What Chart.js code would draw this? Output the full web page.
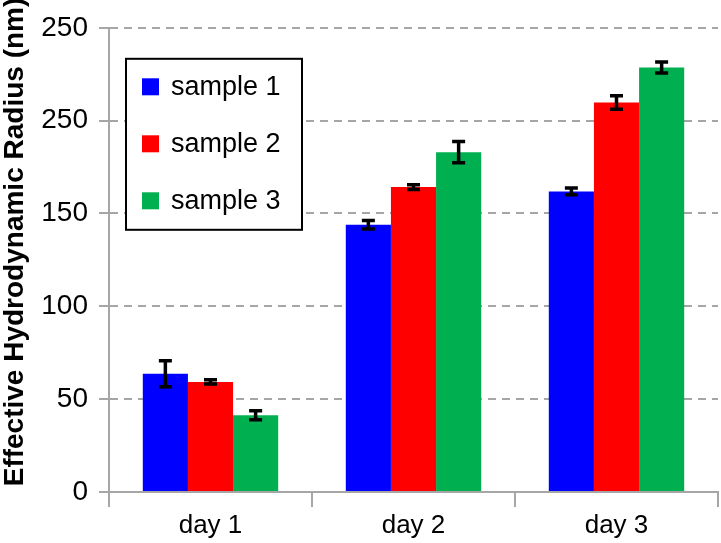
<!DOCTYPE html>
<html>
<head>
<meta charset="utf-8">
<script src="https://cdn.jsdelivr.net/npm/chart.js@4/dist/chart.umd.min.js"></script>
<style>
  html, body { margin: 0; padding: 0; background: #fff; }
  #wrap { width: 721px; height: 543px; position: relative; }
</style>
</head>
<body>
<div id="wrap"><canvas id="c" width="721" height="543"></canvas></div>
<script>
const categories = ['day 1', 'day 2', 'day 3'];
const seriesNames = ['sample 1', 'sample 2', 'sample 3'];
const sample1 = [63.7, 143.9, 161.9];
const sample2 = [59.3, 164.2, 209.8];
const sample3 = [41.3, 183.0, 228.6];
const err1 = [7.0, 2.3, 1.8];
const err2 = [1.2, 1.3, 3.6];
const err3 = [2.4, 5.7, 3.0];
const yTickLabels = ['0', '50', '100', '150', '250', '250'];
const yTitle = 'Effective Hydrodynamic Radius (nm)';
const colors = ['#0000FF', '#FF0000', '#00B050'];

const FONT = "'Liberation Sans', Arial, sans-serif";
const GRAY = '#A6A6A6';

const errorBars = {
  id: 'errorBars',
  afterDatasetsDraw(chart) {
    const ctx = chart.ctx;
    const y = chart.scales.y;
    ctx.save();
    ctx.strokeStyle = '#000';
    ctx.lineWidth = 3.5;
    chart.data.datasets.forEach((ds, di) => {
      const meta = chart.getDatasetMeta(di);
      meta.data.forEach((bar, i) => {
        const v = ds.data[i], e = ds.errors[i];
        const x = bar.x;
        const yt = y.getPixelForValue(v + e);
        const yb = y.getPixelForValue(v - e);
        ctx.beginPath();
        ctx.moveTo(x, yt); ctx.lineTo(x, yb);
        ctx.moveTo(x - 6.5, yt); ctx.lineTo(x + 6.5, yt);
        ctx.moveTo(x - 6.5, yb); ctx.lineTo(x + 6.5, yb);
        ctx.stroke();
      });
    });
    ctx.restore();
  }
};

const boxLegend = {
  id: 'boxLegend',
  afterDraw(chart, args, opts) {
    const ctx = chart.ctx;
    const a = chart.chartArea;
    const x0 = a.left + opts.dx, y0 = a.top + opts.dy;
    ctx.save();
    ctx.fillStyle = '#fff';
    ctx.fillRect(x0, y0, opts.w, opts.h);
    ctx.strokeStyle = '#000';
    ctx.lineWidth = 2;
    ctx.strokeRect(x0, y0, opts.w, opts.h);
    ctx.font = opts.fontSize + 'px ' + FONT;
    ctx.textBaseline = 'middle';
    ctx.textAlign = 'left';
    chart.data.datasets.forEach((ds, i) => {
      const cy = y0 + opts.firstRow + i * opts.rowGap;
      ctx.fillStyle = ds.backgroundColor;
      ctx.fillRect(x0 + 16, cy - 8.5, 17, 17);
      ctx.fillStyle = '#000';
      ctx.fillText(ds.label, x0 + 45, cy + 1);
    });
    ctx.restore();
  }
};

const yTitlePlugin = {
  id: 'yTitlePlugin',
  afterDraw(chart, args, opts) {
    const ctx = chart.ctx;
    ctx.save();
    ctx.translate(opts.x, opts.y);
    ctx.rotate(-Math.PI / 2);
    ctx.font = 'bold ' + opts.fontSize + 'px ' + FONT;
    ctx.fillStyle = '#000';
    ctx.textAlign = 'center';
    ctx.textBaseline = 'alphabetic';
    ctx.fillText(opts.text, 0, 0);
    ctx.restore();
  }
};

new Chart(document.getElementById('c'), {
  type: 'bar',
  data: {
    labels: categories,
    datasets: [
      { label: seriesNames[0], data: sample1, errors: err1, backgroundColor: colors[0] },
      { label: seriesNames[1], data: sample2, errors: err2, backgroundColor: colors[1] },
      { label: seriesNames[2], data: sample3, errors: err3, backgroundColor: colors[2] }
    ]
  },
  options: {
    responsive: false,
    animation: false,
    devicePixelRatio: 1,
    layout: { padding: { top: 6, right: 3, left: 0, bottom: 0 } },
    datasets: { bar: { barPercentage: 1.0, categoryPercentage: 0.667, borderWidth: 0 } },
    plugins: {
      legend: { display: false },
      tooltip: { enabled: false },
      boxLegend: { dx: 17, dy: 31, w: 176, h: 171, firstRow: 28, rowGap: 57, fontSize: 27 },
      yTitlePlugin: { x: 23, y: 242, fontSize: 28, text: yTitle }
    },
    scales: {
      x: {
        afterFit(scale) { scale.height = 51; },
        grid: { offset: true, drawOnChartArea: false, color: GRAY, lineWidth: 2, tickLength: 15 },
        border: { color: GRAY, width: 2 },
        ticks: { color: '#000', font: { family: FONT, size: 26 }, padding: 3 }
      },
      y: {
        min: 0, max: 250,
        afterFit(scale) { scale.width = 109; },
        grid: {
          color: GRAY, lineWidth: 2, tickLength: 10,
          tickBorderDash: []
        },
        border: {
          color: GRAY, width: 2,
          dash: (c) => (c.tick && c.tick.value === 0) ? [] : [8, 6]
        },
        ticks: {
          stepSize: 50, color: '#000', padding: 11,
          font: { family: FONT, size: 28 },
          callback: (v, i) => yTickLabels[i]
        }
      }
    }
  },
  plugins: [errorBars, boxLegend, yTitlePlugin]
});
</script>
</body>
</html>
